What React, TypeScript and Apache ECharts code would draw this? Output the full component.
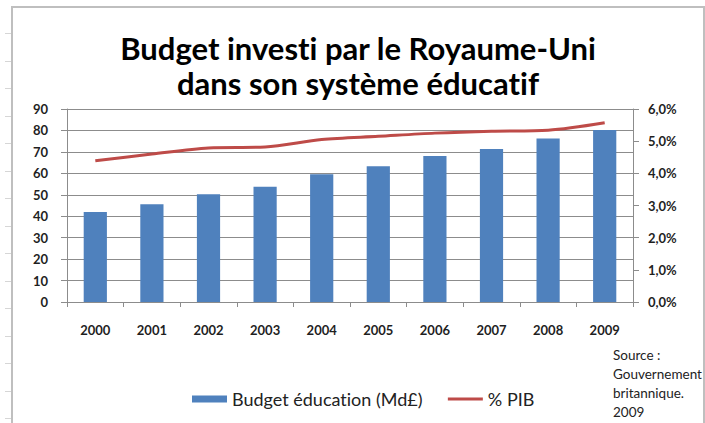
import React, { useEffect, useRef } from "react";
import * as echarts from "echarts";

const years = ["2000", "2001", "2002", "2003", "2004", "2005", "2006", "2007", "2008", "2009"];
const budget = [42, 45.6, 50.2, 53.8, 59.6, 63.3, 68.1, 71.4, 76.2, 80.2];
const pctPib = [4.39, 4.6, 4.79, 4.82, 5.05, 5.15, 5.25, 5.31, 5.34, 5.57];
const leftTicks = { min: 0, max: 90, interval: 10 };
const rightTicks = { min: 0, max: 6, interval: 1 };
const titleText = "Budget investi par le Royaume-Uni\ndans son système éducatif";
const sourceLines = ["Source :", "Gouvernement", "britannique.", "2009"];
const seriesNames = ["Budget éducation (Md£)", "% PIB"];

const FONT = "Lato, 'Open Sans', sans-serif";
const GRID = "#8c8c8c";
const LABEL = "#1f1f1f";
const LINE_ICON = "path://M0 0L0 0M0 2H35V5H0ZM35 7L35 7";

export default function App() {
  const ref = useRef<HTMLDivElement>(null);
  useEffect(() => {
    if (!ref.current) return;
    const chart = echarts.init(ref.current, undefined, { renderer: "svg" });
    const rowMarks: any[] = [];
    for (let i = 0; i < 15; i++) {
      const y = Math.round(33 + i * 27.5) + 0.5;
      rowMarks.push({
        type: "line",
        shape: { x1: 5, y1: y, x2: 11, y2: y },
        style: { stroke: "#d6d6d6", lineWidth: 1 },
        silent: true,
      });
    }
    chart.setOption({
      animation: false,
      backgroundColor: "#ffffff",
      title: {
        text: titleText,
        left: 358,
        textAlign: "center",
        top: 30,
        padding: 0,
        textStyle: {
          fontFamily: FONT,
          fontWeight: "bold",
          fontSize: 31,
          lineHeight: 35,
          color: "#000",
        },
      },
      legend: {
        left: 192,
        top: 390,
        padding: 0,
        itemWidth: 35,
        itemHeight: 7,
        itemGap: 25,
        textStyle: { fontFamily: FONT, fontSize: 18, color: "#222" },
        data: [
          { name: seriesNames[0], icon: "rect" },
          { name: seriesNames[1], icon: LINE_ICON, itemStyle: { color: "#be4b48" } },
        ],
      },
      grid: { left: 67, right: 72, top: 109, bottom: 121, containLabel: false },
      xAxis: {
        type: "category",
        data: years,
        boundaryGap: true,
        axisLine: { show: true, lineStyle: { color: GRID, width: 1 } },
        axisTick: { show: true, length: 5, alignWithLabel: false, lineStyle: { color: GRID } },
        axisLabel: { margin: 21, fontFamily: FONT, fontWeight: "bold", fontSize: 13, color: LABEL },
      },
      yAxis: [
        {
          type: "value",
          position: "left",
          min: leftTicks.min,
          max: leftTicks.max,
          interval: leftTicks.interval,
          axisLine: { show: true, lineStyle: { color: GRID, width: 1 } },
          axisTick: { show: true, length: 6, lineStyle: { color: GRID } },
          splitLine: { show: true, lineStyle: { color: GRID, width: 1 } },
          axisLabel: { margin: 19, fontFamily: FONT, fontWeight: "bold", fontSize: 13, color: LABEL },
        },
        {
          type: "value",
          position: "right",
          min: rightTicks.min,
          max: rightTicks.max,
          interval: rightTicks.interval,
          axisLine: { show: true, lineStyle: { color: GRID, width: 1 } },
          axisTick: { show: true, length: 6, lineStyle: { color: GRID } },
          splitLine: { show: false },
          axisLabel: {
            margin: 15,
            fontFamily: FONT,
            fontWeight: "bold",
            fontSize: 13,
            color: LABEL,
            formatter: (v: number) => v.toFixed(1).replace(".", ",") + "%",
          },
        },
      ],
      series: [
        {
          name: seriesNames[0],
          type: "bar",
          data: budget,
          yAxisIndex: 0,
          barWidth: "41%",
          itemStyle: { color: "#4f81bd" },
        },
        {
          name: seriesNames[1],
          type: "line",
          data: pctPib,
          yAxisIndex: 1,
          symbol: "none",
          showSymbol: false,
          smooth: 0.3,
          lineStyle: { color: "#be4b48", width: 3 },
          itemStyle: { color: "#be4b48" },
        },
      ],
      graphic: [
        {
          type: "rect",
          shape: { x: 12, y: 7, width: 692, height: 440 },
          style: { fill: "none", stroke: "#bfbfbf", lineWidth: 2 },
          silent: true,
          z: 100,
        },
        ...rowMarks,
        {
          type: "text",
          x: 613,
          y: 345,
          style: {
            text: sourceLines.join("\n"),
            fontFamily: FONT,
            fontSize: 13.5,
            lineHeight: 19,
            fill: "#222",
          },
        },
      ],
    });
    return () => chart.dispose();
  }, []);
  return (
    <div
      ref={ref}
      style={{
        position: "absolute",
        left: 0,
        top: 0,
        width: 705,
        height: 423,
        overflow: "hidden",
        fontVariantLigatures: "none",
        fontFeatureSettings: '"liga" 0, "clig" 0',
      }}
    />
  );
}
